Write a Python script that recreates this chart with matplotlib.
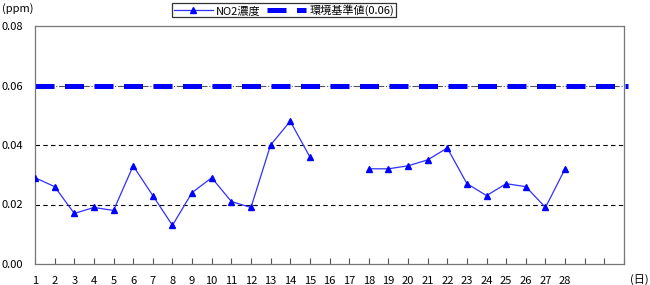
import numpy as np
import matplotlib

matplotlib.use("Agg")
import matplotlib.pyplot as plt

plt.rcParams["font.family"] = ["Noto Sans CJK JP", "DejaVu Sans"]

# Daily NO2 concentration (ppm); days 16 and 17 missing
days = list(range(1, 29))
no2 = [0.029, 0.026, 0.017, 0.019, 0.018, 0.033, 0.023, 0.013, 0.024, 0.029,
       0.021, 0.019, 0.040, 0.048, 0.036, np.nan, np.nan, 0.032, 0.032, 0.033,
       0.035, 0.039, 0.027, 0.023, 0.027, 0.026, 0.019, 0.032]
standard = 0.06
y_ticks = [0.00, 0.02, 0.04, 0.06, 0.08]

C_LINE = "#0000ff"

fig = plt.figure(figsize=(6.5, 2.85), dpi=100)
ax = fig.add_axes([35 / 650, 21 / 285, 589 / 650, 238 / 285])

for y in (0.02, 0.04):
    ax.axhline(y, color="black", linestyle=(0, (4, 3)), linewidth=0.8, zorder=1)
ax.axhline(standard, color="#555555", linestyle="-.", linewidth=0.8, zorder=1)

ax.plot(days, no2, color="#3030ff", linewidth=0.9, marker="^", markersize=5,
        markerfacecolor=C_LINE, markeredgecolor=C_LINE, label="NO2濃度", zorder=3)
ax.plot([1, 31.2], [standard, standard], color=C_LINE, linewidth=3.6,
        linestyle=(0, (3.8, 2.1)), label="環境基準値(0.06)", clip_on=False, zorder=2)

ax.set_xlim(1, 31)
ax.set_ylim(0, 0.08)
ax.set_xticks(range(1, 32))
ax.set_xticklabels([str(d) for d in days] + ["", "", ""])
ax.set_yticks(y_ticks)
ax.set_yticklabels([f"{v:.2f}" for v in y_ticks])
ax.tick_params(axis="x", direction="in", length=4, labelsize=8, pad=9, color="#555555")
ax.tick_params(axis="y", length=0, labelsize=8, pad=24)
for lab in ax.get_yticklabels():
    lab.set_horizontalalignment("left")
for sp in ax.spines.values():
    sp.set_color("#777777")
    sp.set_linewidth(0.9)

fig.text(2 / 650, 1 - 9 / 285, "(ppm)", fontsize=8, va="center", ha="left")
fig.text(649 / 650, 1 - 280 / 285, "(日)", fontsize=8, va="center", ha="right")

leg = fig.legend(loc="center", bbox_to_anchor=(284 / 650, 1 - 10 / 285), ncol=2,
                 fontsize=8, frameon=True, fancybox=False, edgecolor="black",
                 handlelength=3.5, handletextpad=0.3, columnspacing=0.6,
                 borderpad=0.15, borderaxespad=0)
leg.get_frame().set_linewidth(0.9)

fig.savefig("out.png", dpi=100)
